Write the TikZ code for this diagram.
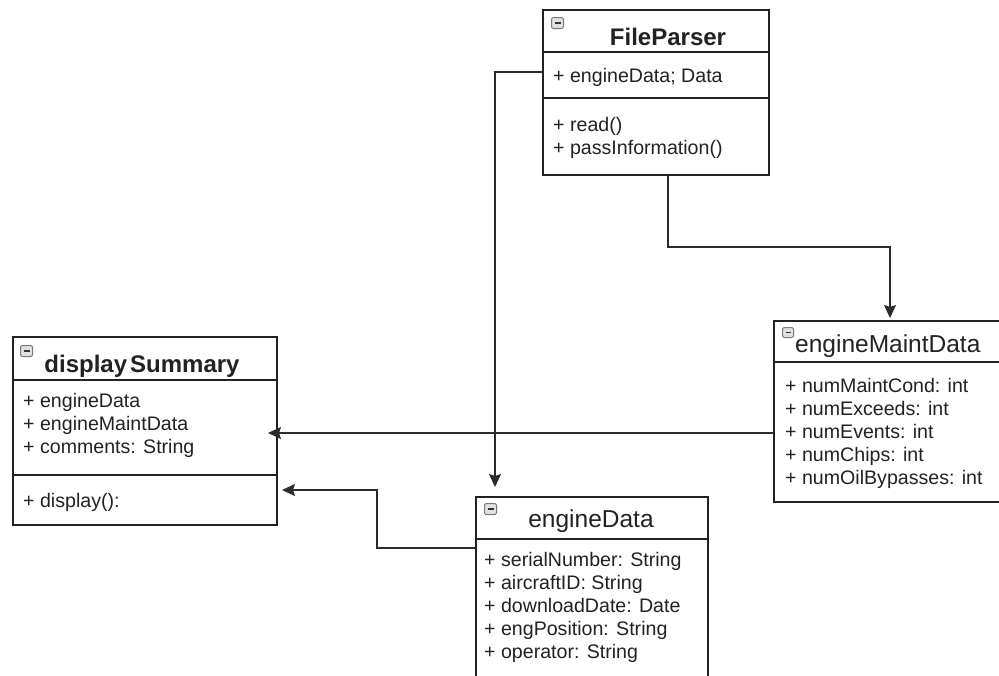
\documentclass[tikz,border=0pt]{standalone}
\usepackage{fontspec}
\setmainfont{Liberation Sans}
\usetikzlibrary{arrows.meta,calc}
\definecolor{ink}{HTML}{222222}
\definecolor{wire}{HTML}{2B2B2B}
\definecolor{iconfill}{HTML}{E0E0E0}
\definecolor{iconedge}{HTML}{7A7A7A}
\tikzset{
  classbox/.style={draw=ink, line width=1.5pt, fill=white, rectangle, inner sep=0pt, anchor=north west},
  divider/.style={draw=ink, line width=1.5pt},
  member/.style={anchor=base west, inner sep=0pt, text=ink, font=\fontsize{19.6}{23}\selectfont},
  titlebold/.style={anchor=base, inner sep=0pt, text=ink, font=\fontsize{24}{28}\selectfont\bfseries},
  titleplain/.style={anchor=base, inner sep=0pt, text=ink, font=\fontsize{24.5}{29}\selectfont},
  link/.style={draw=wire, line width=1.4pt, -{Stealth[length=13pt,width=12pt,inset=2pt]}},
  foldicon/.style={draw=iconedge, fill=iconfill, rounded corners=1.5pt, line width=1pt,
    minimum width=12pt, minimum height=11pt, inner sep=0pt, anchor=north west,
    path picture={\draw[line width=1.8pt, draw=black!80]
      ([xshift=3pt]path picture bounding box.west) -- ([xshift=-3pt]path picture bounding box.east);}},
}
\begin{document}
\begin{tikzpicture}[x=1pt,y=-1pt]
\useasboundingbox[fill=white] (0,0) rectangle (999,675);
\clip (0,0) rectangle (999,675);

% ---- FileParser ----
\node[classbox, minimum width=226pt, minimum height=165pt] (fp) at (542,9) {};
\draw[divider] (fp.west |- 0,52) -- (fp.east |- 0,52);
\draw[divider] (fp.west |- 0,98) -- (fp.east |- 0,98);
\node[foldicon] (fpicon) at (551,17) {};
\node[titlebold] (fptitle) at (668,45) {FileParser};
\node[member] (fpa1) at (553,82) {+ engineData; Data};
\node[member] (fpm1) at (553,131) {+ read()};
\node[member] (fpm2) at (553,154) {+ passInformation()};

% ---- displaySummary ----
\node[classbox, minimum width=264pt, minimum height=188pt] (ds) at (12,336) {};
\draw[divider] (ds.west |- 0,380) -- (ds.east |- 0,380);
\draw[divider] (ds.west |- 0,475) -- (ds.east |- 0,475);
\node[foldicon] (dsicon) at (20,345) {};
\node[titlebold] (dstitle) at (142,372) {display\kern3pt Summary};
\node[member] (dsa1) at (23,407) {+ engineData};
\node[member] (dsa2) at (23,430) {+ engineMaintData};
\node[member] (dsa3) at (23,453) {+ comments: String};
\node[member] (dsm1) at (23,507) {+ display():};

% ---- engineMaintData (runs past the right edge) ----
\node[classbox, minimum width=240pt, minimum height=181pt] (emd) at (773,320) {};
\draw[divider] (emd.west |- 0,362) -- (emd.east |- 0,362);
\node[foldicon, minimum width=11pt, minimum height=10pt] (emdicon) at (782,327) {};
\node[titleplain, anchor=base west] (emdtitle) at (795,352) {engineMaintData};
\node[member] (emda1) at (785,392) {+ numMaintCond: int};
\node[member] (emda2) at (785,415) {+ numExceeds: int};
\node[member] (emda3) at (785,438) {+ numEvents: int};
\node[member] (emda4) at (785,461) {+ numChips: int};
\node[member] (emda5) at (785,484) {+ numOilBypasses: int};

% ---- engineData (runs past the bottom edge) ----
\node[classbox, minimum width=232pt, minimum height=200pt] (ed) at (475,496) {};
\draw[divider] (ed.west |- 0,539) -- (ed.east |- 0,539);
\node[foldicon] (edicon) at (484,503) {};
\node[titleplain] (edtitle) at (591,527) {engineData};
\node[member] (eda1) at (484,566) {+ serialNumber: String};
\node[member] (eda2) at (484,589) {+ aircraftID: String};
\node[member] (eda3) at (484,612) {+ downloadDate: Date};
\node[member] (eda4) at (484,635) {+ engPosition: String};
\node[member] (eda5) at (484,658) {+ operator: String};

% ---- connector ends ----
\coordinate (edTip) at (495,487);
\coordinate (emdTip) at (890,318);
\coordinate (dsTipA) at (268,433);
\coordinate (dsTipB) at (282,490);

% ---- connectors ----
\draw[link] (fp.west |- 0,72) -| (edTip);
\draw[link] (fp.south -| 668,0) |- (890,247) -- (emdTip);
\draw[link] (emd.west |- dsTipA) -- (dsTipA);
\draw[link] (ed.west |- 0,548) -- (377,548) |- (dsTipB);
\end{tikzpicture}
\end{document}
